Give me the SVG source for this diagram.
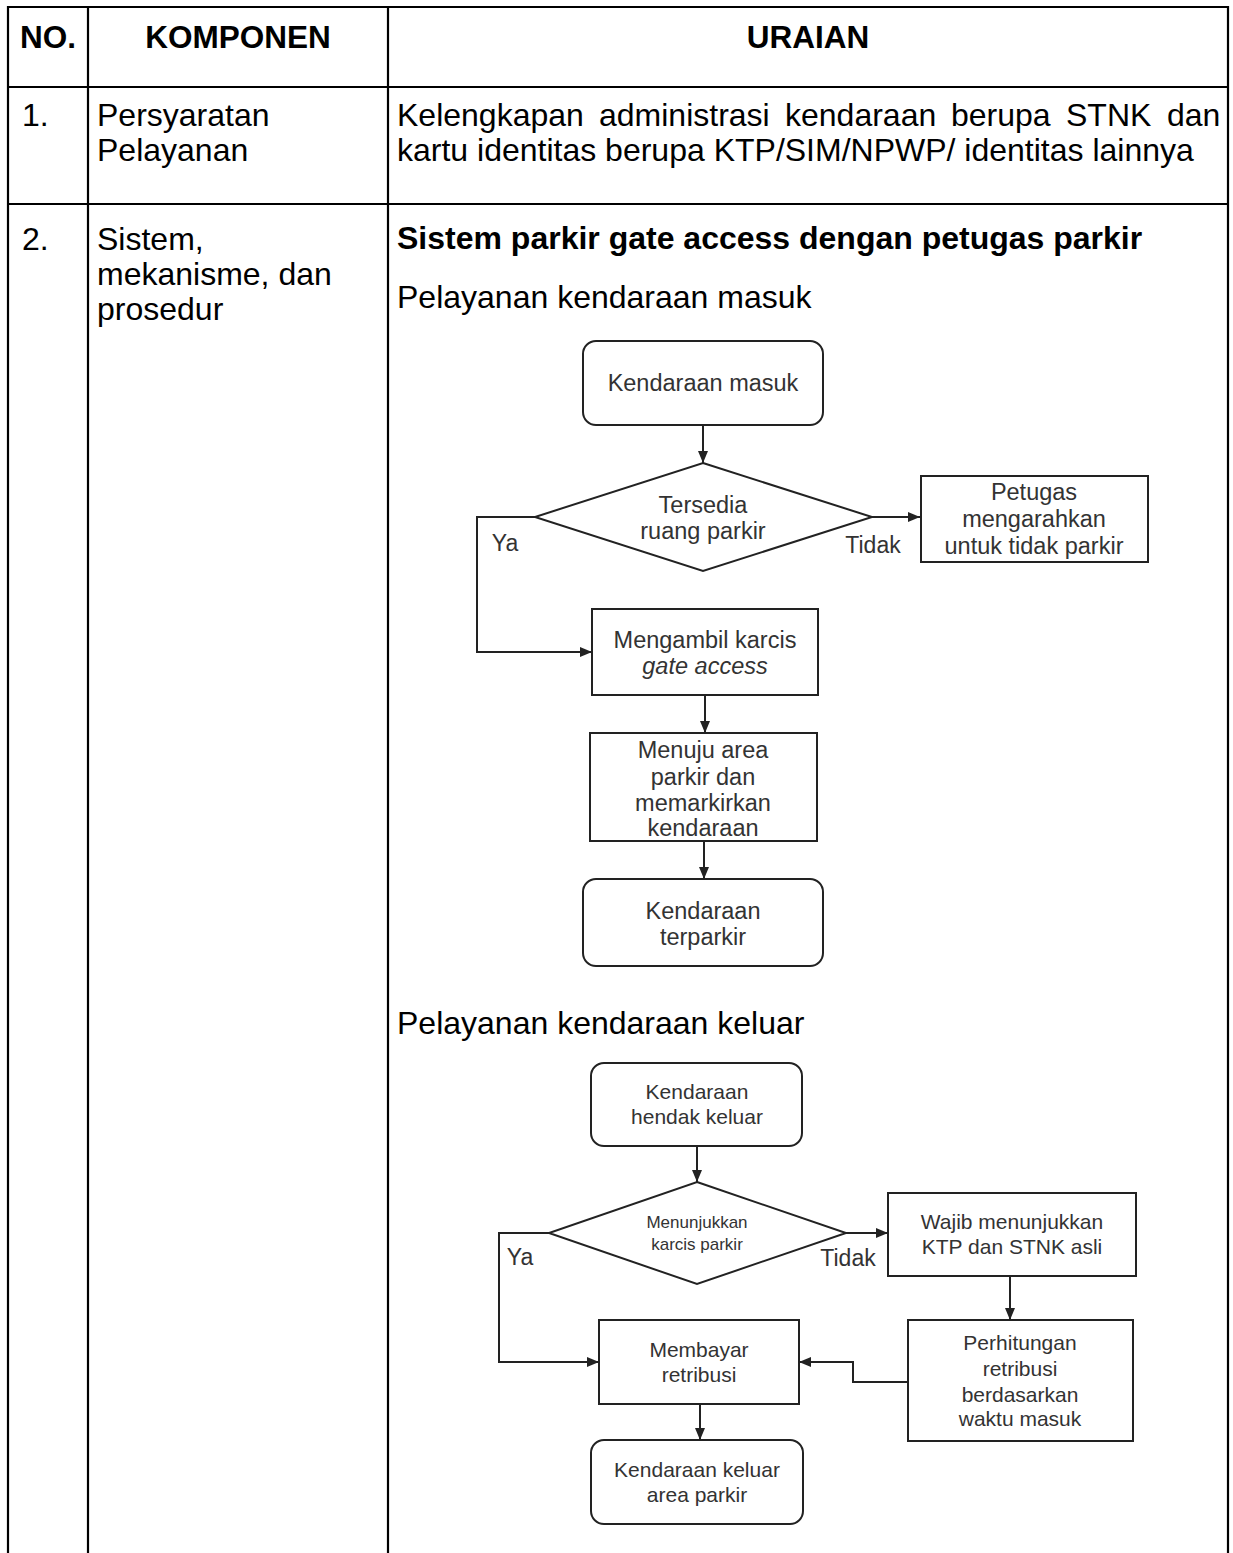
<svg xmlns="http://www.w3.org/2000/svg" width="1233" height="1553" viewBox="0 0 1233 1553">
  <style>
    .grid { stroke: #000; stroke-width: 2.2; fill: none; }
    .th { font-family: "Liberation Sans", Arial, sans-serif; font-size: 31.5px; font-weight: bold; fill: #000; }
    .td { font-family: "Liberation Sans", Arial, sans-serif; font-size: 32px; fill: #000; }
    .tdb { font-family: "Liberation Sans", Arial, sans-serif; font-size: 32px; font-weight: bold; fill: #000; }
    .shape { fill: #fff; stroke: #222; stroke-width: 2; }
    .lbl { font-family: "Liberation Sans", Arial, sans-serif; font-size: 23.5px; fill: #333; text-anchor: middle; }
    .out .lbl { font-size: 21px; }
    .out .sm { font-size: 17px; }
    .edge { fill: none; stroke: #222; stroke-width: 2; }
    .tag { font-family: "Liberation Sans", Arial, sans-serif; font-size: 23px; fill: #333; text-anchor: middle; }
  </style>
  <defs>
    <marker id="arrow" viewBox="0 0 12 10" refX="12" refY="5" markerWidth="12" markerHeight="10" markerUnits="userSpaceOnUse" orient="auto">
      <path d="M0,0 L12,5 L0,10 z" fill="#222"/>
    </marker>
  </defs>

  <rect width="1233" height="1553" fill="#fff"/>

  <!-- table grid -->
  <g id="table-grid" class="grid">
    <line x1="8" y1="7" x2="1228" y2="7"/>
    <line x1="8" y1="87" x2="1228" y2="87"/>
    <line x1="8" y1="204" x2="1228" y2="204"/>
    <line x1="8" y1="6" x2="8" y2="1553"/>
    <line x1="88" y1="6" x2="88" y2="1553"/>
    <line x1="388" y1="6" x2="388" y2="1553"/>
    <line x1="1228" y1="6" x2="1228" y2="1553"/>
  </g>

  <!-- header row -->
  <g id="header">
    <text class="th" x="48" y="48" text-anchor="middle">NO.</text>
    <text class="th" x="238" y="48" text-anchor="middle">KOMPONEN</text>
    <text class="th" x="808" y="48" text-anchor="middle">URAIAN</text>
  </g>

  <!-- row 1 -->
  <g id="row-1">
    <text class="td" x="22" y="126">1.</text>
    <text class="td" x="97" y="126">Persyaratan</text>
    <text class="td" x="97" y="161">Pelayanan</text>
    <text class="td" y="126"><tspan x="397">Kelengkapan</tspan><tspan x="599">administrasi</tspan><tspan x="785">kendaraan</tspan><tspan x="951">berupa</tspan><tspan x="1066">STNK</tspan><tspan x="1167">dan</tspan></text>
    <text class="td" x="397" y="161">kartu identitas berupa KTP/SIM/NPWP/ identitas lainnya</text>
  </g>

  <!-- row 2 -->
  <g id="row-2">
    <text class="td" x="22" y="250">2.</text>
    <text class="td" x="97" y="250">Sistem,</text>
    <text class="td" x="97" y="285">mekanisme, dan</text>
    <text class="td" x="97" y="320">prosedur</text>
    <text class="tdb" x="397" y="249">Sistem parkir gate access dengan petugas parkir</text>
    <text class="td" x="397" y="308">Pelayanan kendaraan masuk</text>
    <text class="td" x="397" y="1034">Pelayanan kendaraan keluar</text>
  </g>

  <!-- connectors of both flows -->
  <g id="connectors">
    <path class="edge" d="M703,425 L703,463" marker-end="url(#arrow)"/>
    <path class="edge" d="M872,517 L920,517" marker-end="url(#arrow)"/>
    <path class="edge" d="M535,517 L477,517 L477,652 L592,652" marker-end="url(#arrow)"/>
    <path class="edge" d="M705,695 L705,733" marker-end="url(#arrow)"/>
    <path class="edge" d="M704,841 L704,879" marker-end="url(#arrow)"/>

    <path class="edge" d="M697,1146 L697,1182" marker-end="url(#arrow)"/>
    <path class="edge" d="M846,1233 L888,1233" marker-end="url(#arrow)"/>
    <path class="edge" d="M549,1233 L499,1233 L499,1362 L599,1362" marker-end="url(#arrow)"/>
    <path class="edge" d="M1010,1276 L1010,1320" marker-end="url(#arrow)"/>
    <path class="edge" d="M908,1382 L853,1382 L853,1362 L799,1362" marker-end="url(#arrow)"/>
    <path class="edge" d="M700,1404 L700,1440" marker-end="url(#arrow)"/>

    <text class="tag" x="505" y="551">Ya</text>
    <text class="tag" x="873" y="553">Tidak</text>
    <text class="tag" x="520" y="1265">Ya</text>
    <text class="tag" x="848" y="1266">Tidak</text>
  </g>

  <!-- entry flow nodes -->
  <g id="kendaraan-masuk">
    <rect class="shape" x="583" y="341" width="240" height="84" rx="13"/>
    <text class="lbl" x="703" y="391">Kendaraan masuk</text>
  </g>
  <g id="tersedia-ruang">
    <polygon class="shape" points="703,463 872,517 703,571 535,517"/>
    <text class="lbl" x="703" y="513">Tersedia</text>
    <text class="lbl" x="703" y="539">ruang parkir</text>
  </g>
  <g id="petugas-mengarahkan">
    <rect class="shape" x="921" y="476" width="227" height="86"/>
    <text class="lbl" x="1034" y="500">Petugas</text>
    <text class="lbl" x="1034" y="527">mengarahkan</text>
    <text class="lbl" x="1034" y="554">untuk tidak parkir</text>
  </g>
  <g id="mengambil-karcis">
    <rect class="shape" x="592" y="609" width="226" height="86"/>
    <text class="lbl" x="705" y="648">Mengambil karcis</text>
    <text class="lbl" x="705" y="674" font-style="italic">gate access</text>
  </g>
  <g id="menuju-area">
    <rect class="shape" x="590" y="733" width="227" height="108"/>
    <text class="lbl" x="703" y="758">Menuju area</text>
    <text class="lbl" x="703" y="785">parkir dan</text>
    <text class="lbl" x="703" y="811">memarkirkan</text>
    <text class="lbl" x="703" y="836">kendaraan</text>
  </g>
  <g id="kendaraan-terparkir">
    <rect class="shape" x="583" y="879" width="240" height="87" rx="13"/>
    <text class="lbl" x="703" y="919">Kendaraan</text>
    <text class="lbl" x="703" y="945">terparkir</text>
  </g>

  <!-- exit flow nodes -->
  <g class="out">
    <g id="hendak-keluar">
      <rect class="shape" x="591" y="1063" width="211" height="83" rx="13"/>
      <text class="lbl" x="697" y="1099">Kendaraan</text>
      <text class="lbl" x="697" y="1124">hendak keluar</text>
    </g>
    <g id="menunjukkan-karcis">
      <polygon class="shape" points="697,1182 846,1233 697,1284 549,1233"/>
      <text class="lbl sm" x="697" y="1228">Menunjukkan</text>
      <text class="lbl sm" x="697" y="1250">karcis parkir</text>
    </g>
    <g id="wajib-ktp">
      <rect class="shape" x="888" y="1193" width="248" height="83"/>
      <text class="lbl" x="1012" y="1229">Wajib menunjukkan</text>
      <text class="lbl" x="1012" y="1254">KTP dan STNK asli</text>
    </g>
    <g id="perhitungan">
      <rect class="shape" x="908" y="1320" width="225" height="121"/>
      <text class="lbl" x="1020" y="1350">Perhitungan</text>
      <text class="lbl" x="1020" y="1376">retribusi</text>
      <text class="lbl" x="1020" y="1402">berdasarkan</text>
      <text class="lbl" x="1020" y="1426">waktu masuk</text>
    </g>
    <g id="membayar">
      <rect class="shape" x="599" y="1320" width="200" height="84"/>
      <text class="lbl" x="699" y="1357">Membayar</text>
      <text class="lbl" x="699" y="1382">retribusi</text>
    </g>
    <g id="keluar-area">
      <rect class="shape" x="591" y="1440" width="212" height="84" rx="13"/>
      <text class="lbl" x="697" y="1477">Kendaraan keluar</text>
      <text class="lbl" x="697" y="1502">area parkir</text>
    </g>
  </g>
</svg>
